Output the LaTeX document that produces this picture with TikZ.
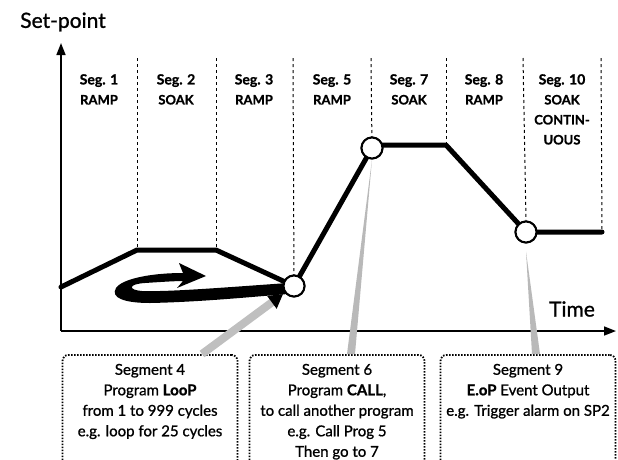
\documentclass[tikz,border=0pt]{standalone}
\usepackage{fontspec}
\setmainfont{Lato}[FakeBold=1.0]
\usetikzlibrary{positioning,calc,arrows.meta}

\tikzset{
    profile/.style={line width=5pt, line cap=round, line join=round},
    divider/.style={line width=1pt, dash pattern=on 3pt off 3pt},
    marker/.style={circle, draw, fill=white, line width=2pt, minimum size=21pt, inner sep=0pt},
    seglabel/.style={font=\bfseries\fontsize{14}{20}\selectfont, align=center, anchor=north, inner sep=0pt},
    infobox/.style={draw, line width=1.8pt, dash pattern=on 1.5pt off 1.5pt,
        rounded corners=6pt, anchor=north, align=center, minimum width=175pt,
        font=\fontsize{15}{20.5}\selectfont, inner xsep=2pt, inner ysep=9pt, text depth=120pt},
    hint/.style={draw=gray!50, line width=8pt, -{Triangle[length=14pt,width=15pt,color=black]}},
    wedge/.style={fill=gray!55},
    axis/.style={line width=1.6pt, -{Triangle[length=12pt,width=9pt]}}
}

\begin{document}
\begin{tikzpicture}[x=1pt, y=-1pt]
    \useasboundingbox (0,0) rectangle (618,459);
    \clip (0,0) rectangle (618,459);
    \def\top{58} % top of the dashed dividers

    \coordinate (origin) at (61,331);
    \coordinate (ytop) at (61,43);
    \coordinate (xend) at (616,331);

    \coordinate (s0) at (61,287);
    \coordinate (s1) at (137,250);
    \coordinate (s2) at (216,250);
    \coordinate (s7) at (446,145);
    \coordinate (s10) at (602,232);

    \node[marker] (p4) at (294,286) {};
    \node[marker] (p6) at (372,148) {};
    \node[marker] (p9) at (526,232) {};

    % dividers
    \draw[divider] (137,\top) -- (s1);
    \draw[divider] (216,\top) -- (s2);
    \draw[divider] (293,\top) -- (p4.center);
    \draw[divider] (371,\top) -- (p6.center);
    \draw[divider] (446,\top) -- (s7);
    \draw[divider] (523,\top) -- (p9.north);
    \draw[divider] (601,\top) -- (s10);

    \node[seglabel] (seg1) at (99,74) {Seg. 1\\\fontsize{13}{20}\selectfont RAMP};
    \node[seglabel] (seg2) at (176,74) {Seg. 2\\\fontsize{13}{20}\selectfont SOAK};
    \node[seglabel] (seg3) at (254,74) {Seg. 3\\\fontsize{13}{20}\selectfont RAMP};
    \node[seglabel] (seg5) at (332,74) {Seg. 5\\\fontsize{13}{20}\selectfont RAMP};
    \node[seglabel] (seg7) at (409,74) {Seg. 7\\\fontsize{13}{20}\selectfont SOAK};
    \node[seglabel] (seg8) at (484,74) {Seg. 8\\\fontsize{13}{20}\selectfont RAMP};
    \node[seglabel] (seg10) at (562,74) {Seg. 10\\\fontsize{13}{20}\selectfont SOAK\\\fontsize{13}{20}\selectfont CONTIN-\\\fontsize{13}{20}\selectfont UOUS};

    % axes
    \draw[axis] (origin) -- (ytop);
    \draw[axis] (origin) -- (xend);
    \node (setpoint) at (63,22) {\fontsize{21}{24}\selectfont Set-point};
    \node (time) at (572,309) {\fontsize{21}{24}\selectfont Time};

    % the profile
    \draw[profile] (s0) -- (s1) -- (s2) -- (p4.center) -- (p6.center);
    \draw[profile] (p6.center) -- (p6.center |- s7) -- (s7) -- (p9.center) -- (s10);

    % the loop
    \fill (288,283) .. controls (230,287) and (170,292) .. (142,291)
        .. controls (128,290) and (128,284) .. (145,283)
        .. controls (160,282) and (175,281) .. (183,281)
        -- (177,288) -- (206,276) -- (179,263) -- (183,273)
        .. controls (150,273) and (122,279) .. (116,288)
        .. controls (110,298) and (125,303) .. (150,303)
        .. controls (200,302) and (250,297) .. (288,294) -- cycle;

    \node[marker] at (p4) {};
    \node[marker] at (p6) {};
    \node[marker] at (p9) {};

    % boxes
    \node[infobox] (loopbox) at (150,354) {Segment 4\\Program \textbf{LooP}\\from 1 to 999 cycles\\e.g. loop for 25 cycles};
    \node[infobox] (callbox) at (337,354) {Segment 6\\Program \textbf{CALL},\\to call another program\\e.g. Call Prog 5\\Then go to 7};
    \node[infobox] (eventbox) at (528,354) {Segment 9\\\textbf{E.oP} Event Output\\e.g. Trigger alarm on SP2};

    % pointers from the boxes
    \draw[hint, shorten >=2pt] ($(loopbox.north)+(52,0)$) -- (p4);
    \fill[wedge] ($(callbox.north)+(10,0)$) -- ($(callbox.north)+(18,0)$) -- (p6.south) -- cycle;
    \fill[wedge] ($(eventbox.north)+(4,0)$) -- ($(eventbox.north)+(12,0)$) -- ($(p9.south)+(0,8)$) -- cycle;
\end{tikzpicture}
\end{document}
